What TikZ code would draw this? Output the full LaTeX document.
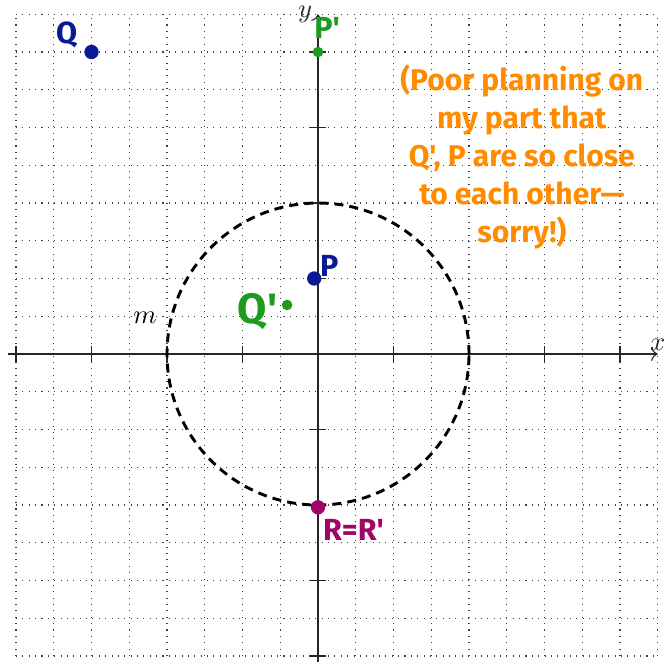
\documentclass[tikz,border=0pt]{standalone}
\usepackage{fontspec}
\newfontfamily\handfont{Fira Sans}
\usetikzlibrary{arrows.meta}

\definecolor{ptblue}{RGB}{10,26,150}
\definecolor{ptgreen}{RGB}{30,155,30}
\definecolor{ptpurple}{RGB}{160,6,106}
\definecolor{noteorange}{RGB}{255,140,0}

\begin{document}
\begin{tikzpicture}[>=To,
            gridline/.style={dotted, thin, black!75},
            axis/.style={->, black!85, thin},
            tickmark/.style={black!85, thin},
            mirror/.style={black, line width=1.1pt, dash pattern=on 3.4pt off 2.3pt},
            pt/.style={circle, fill, inner sep=0pt, minimum size=0.19cm},
            imgpt/.style={circle, fill, inner sep=0pt, minimum size=0.14cm},
            hand/.style={font=\handfont\bfseries\fontsize{11.5}{13}\selectfont}]

            \useasboundingbox (-4.212,-4.079) rectangle (4.662,4.689);
            \draw[gridline, step=0.5] (-4,-4) grid (4.5,4.5);

            % axes
            \coordinate (xstart) at (-4.1,0);
            \coordinate (xend) at (4.5,0);
            \coordinate (ystart) at (0,-4.1);
            \coordinate (yend) at (0,4.5);
            \draw[axis] (xstart) -- (xend) node[above, inner sep=1pt] (xlabel) {$x$};
            \draw[axis] (ystart) -- (yend) node[left, inner sep=2pt] (ylabel) {$y$};
            \foreach \t in {-4,-3,-2,-1,1,2,3,4} {
                \draw[tickmark] (\t,-0.1) -- (\t,0.1);
                \draw[tickmark] (-0.1,\t) -- (0.1,\t);
            }

            % circle of inversion
            \draw[mirror] (0,0) circle (2);
            \node (m) at (-2.29,0.48) {$m$};

            % points
            \node[pt, ptblue] (Q) at (-3,4) {};
            \node[pt, ptblue] (P) at (-0.05,1) {};
            \node[imgpt, ptgreen] (Pp) at (0,4) {};
            \node[imgpt, ptgreen] (Qp) at (-0.41,0.65) {};
            \node[pt, ptpurple] (R) at (0,-2.03) {};

            \node[hand, ptblue] (Qlabel) at (-3.33,4.23) {Q};
            \node[hand, ptblue] (Plabel) at (0.15,1.17) {P};
            \node[hand, ptgreen] (Pplabel) at (0.12,4.32) {P'};
            \node[hand, ptgreen, font=\handfont\bfseries\fontsize{16}{18}\selectfont] (Qplabel) at (-0.8,0.56) {Q'};
            \node[hand, ptpurple] (Rlabel) at (0.47,-2.33) {R=R'};

            \node[hand, noteorange, align=center, font=\handfont\bfseries\fontsize{11.3}{14.3}\selectfont] (note) at (2.70,2.61)
                {(Poor planning on\\my part that\\Q', P are so close\\to each other—\\sorry!)};
        \end{tikzpicture}
\end{document}
